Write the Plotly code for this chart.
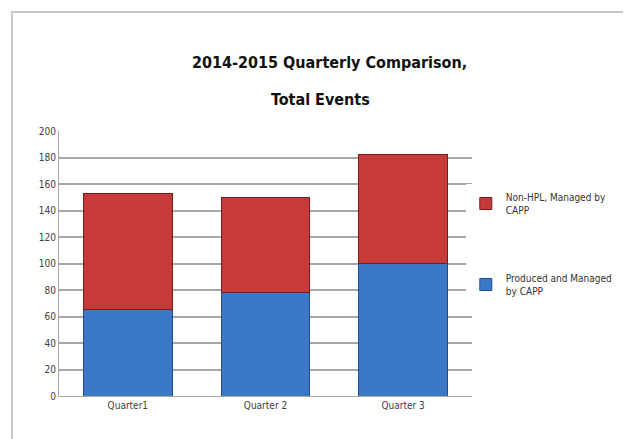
import plotly.graph_objects as go

# ─── Veriler ──────────────────────────────────────────────
quarters = ["Quarter1", "Quarter 2", "Quarter 3"]
produced_capp = [65, 78, 100]
non_hpl_capp = [88, 72, 82]

y_ticks = list(range(0, 201, 20))

FONT = "DejaVu Sans Condensed, Liberation Sans, Arial, sans-serif"

fig = go.Figure()

fig.add_trace(go.Bar(
    x=quarters,
    y=produced_capp,
    name="Produced and Managed<br>by CAPP",
    legendgroup="a",
    legendrank=2,
    marker=dict(color="#3c78c8", line=dict(color="#1f4f8a", width=1)),
    width=0.645,
))
fig.add_trace(go.Bar(
    x=quarters,
    y=non_hpl_capp,
    name="Non-HPL, Managed by<br>CAPP",
    legendgroup="b",
    legendrank=1,
    marker=dict(color="#c63b3a", line=dict(color="#7a1c1c", width=1)),
    width=0.645,
))

# sayfa gövdesinin 8px kenar boşluğu yüzünden 623x431
fig.update_layout(
    barmode="stack",
    width=623,
    height=431,
    paper_bgcolor="white",
    plot_bgcolor="white",
    font=dict(family=FONT, size=10, color="#404040"),
    margin=dict(l=51, r=159, t=123, b=43),
    showlegend=True,
    legend=dict(
        x=0.985,
        y=0.8,
        xanchor="left",
        yanchor="top",
        traceorder="grouped",
        tracegroupgap=52,
        font=dict(size=10, color="#333333"),
        itemwidth=30,
    ),
    annotations=[
        dict(text="<b>2014-2015 Quarterly Comparison,</b>", xref="paper", yref="paper",
             x=0.656, y=1.26, xanchor="center", yanchor="middle", showarrow=False,
             font=dict(size=16, color="#111111", family=FONT)),
        dict(text="<b>Total Events</b>", xref="paper", yref="paper",
             x=0.632, y=1.117, xanchor="center", yanchor="middle", showarrow=False,
             font=dict(size=16, color="#111111", family=FONT)),
    ],
    shapes=[
        dict(type="rect", xref="paper", yref="paper",
             x0=-0.114, x1=1.45, y0=-0.2, y1=1.449,
             line=dict(color="#c8c8c8", width=2), fillcolor="rgba(0,0,0,0)",
             layer="below"),
    ],
)

fig.update_yaxes(
    range=[0, 200],
    tickvals=y_ticks,
    showgrid=True,
    gridcolor="#a6a6a6",
    gridwidth=1.5,
    showline=True,
    linecolor="#a6a6a6",
    zeroline=False,
    ticks="",
    tickfont=dict(size=10),
)
fig.update_xaxes(
    showline=True,
    linecolor="#a6a6a6",
    ticks="",
    tickfont=dict(size=10),
)

fig.write_html("out.html")
